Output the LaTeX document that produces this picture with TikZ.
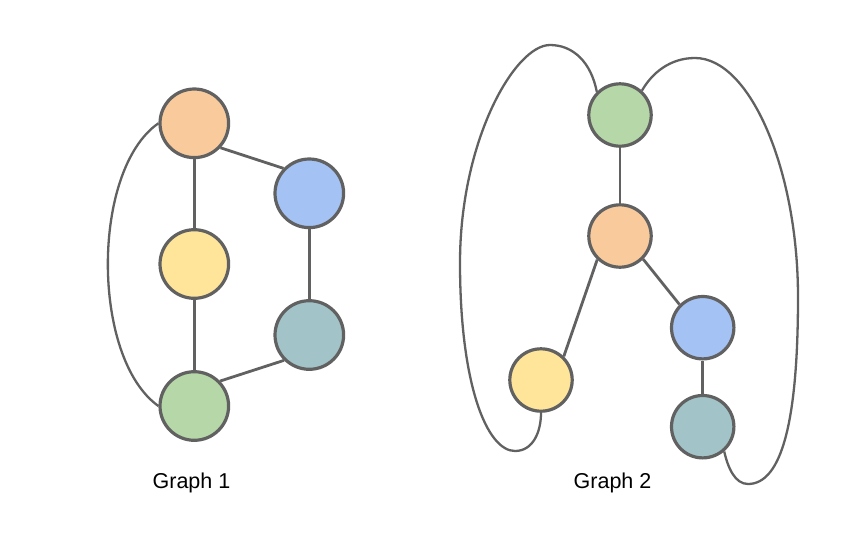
\documentclass[tikz,border=0pt]{standalone}
\usepackage{fontspec}
\setmainfont{Liberation Sans}
\definecolor{cOrange}{HTML}{F9CB9C}
\definecolor{cBlue}{HTML}{A4C2F4}
\definecolor{cYellow}{HTML}{FFE599}
\definecolor{cTeal}{HTML}{A2C4C9}
\definecolor{cGreen}{HTML}{B6D7A8}
\definecolor{cLine}{HTML}{616161}
\begin{document}
\begin{tikzpicture}[x=1pt,y=-1pt,
  vbig/.style={circle,draw=cLine,line width=3.2pt,minimum size=68.6pt,inner sep=0pt},
  vsmall/.style={circle,draw=cLine,line width=3.2pt,minimum size=62.4pt,inner sep=0pt},
  edge/.style={draw=cLine,line width=2.8pt},
  loopline/.style={draw=cLine,line width=2.3pt},
  lbl/.style={font=\fontsize{21.5}{24}\selectfont,anchor=base,text=black}]
\useasboundingbox (0,0) rectangle (846,552);
% Graph 1
\node[vbig,fill=cOrange] (o1) at (194.3,123.3) {};
\node[vbig,fill=cBlue]   (b1) at (309.3,193.3) {};
\node[vbig,fill=cYellow] (y1) at (194.3,264) {};
\node[vbig,fill=cTeal]   (t1) at (309.3,335) {};
\node[vbig,fill=cGreen]  (g1) at (194.3,406) {};
\path[edge] (o1.317) -- (b1.136);
\path[edge] (o1) -- (y1);
\path[edge] (y1) -- (g1);
\path[edge] (b1) -- (t1);
\path[edge] (t1.225) -- (g1.44);
\path[loopline] (o1.180) .. controls (91,170) and (91,358) .. (g1.180);
\node[lbl] (l1) at (191.5,488) {Graph 1};
% Graph 2
\node[vsmall,fill=cGreen]  (g2) at (620,115) {};
\node[vsmall,fill=cOrange] (o2) at (620,236) {};
\node[vsmall,fill=cBlue]   (b2) at (702.7,327.7) {};
\node[vsmall,fill=cYellow] (y2) at (541,380) {};
\node[vsmall,fill=cTeal]   (t2) at (702.7,426.7) {};
\path[edge] (g2) -- (o2);
\path[edge] (o2.226) -- (y2.46);
\path[edge] (o2.315) -- (b2.135);
\path[edge] (b2) -- (t2);
\coordinate (lp1) at (550,45);
\coordinate (lp2) at (460,263);
\coordinate (lp3) at (515,451);
\path[loopline] (g2.135) .. controls (591,62) and (573,45) .. (lp1)
  .. controls (515,45) and (460,140) .. (lp2)
  .. controls (460,385) and (487,451) .. (lp3)
  .. controls (533,451) and (541,432) .. (y2.270);
\coordinate (rp1) at (695,58);
\coordinate (rp2) at (798,297);
\coordinate (rp3) at (748,484);
\path[loopline] (g2.48) .. controls (652,73) and (670,58) .. (rp1)
  .. controls (750,58) and (798,170) .. (rp2)
  .. controls (798,420) and (782,484) .. (rp3)
  .. controls (735,484) and (728,468) .. (t2.311);
\node[lbl] (l2) at (612.5,488) {Graph 2};
\end{tikzpicture}
\end{document}
